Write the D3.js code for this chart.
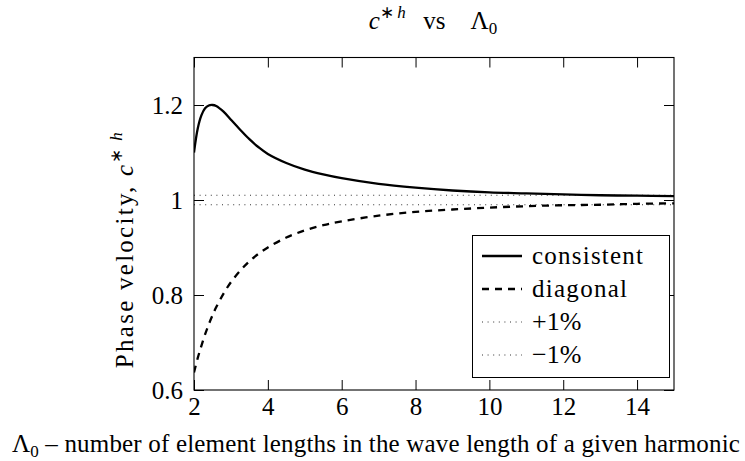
<!DOCTYPE html>
<html>
<head>
<meta charset="utf-8">
<script src="https://cdn.jsdelivr.net/npm/d3@7"></script>
<style>
  html, body { margin: 0; padding: 0; background: #fff; }
  svg { display: block; }
</style>
</head>
<body>
<svg id="chart" width="745" height="461"></svg>
<script>
// ---- data ----
const lambda = [2, 2.1, 2.2, 2.3, 2.4, 2.5, 2.6, 2.8, 3, 3.25, 3.5, 3.75, 4, 4.5, 5, 5.5, 6, 7, 8, 9, 10, 11, 12, 13, 14, 15];
const consistent = [1.100, 1.150, 1.178, 1.193, 1.199, 1.200, 1.198, 1.186, 1.169, 1.148, 1.128, 1.111, 1.097, 1.078, 1.064, 1.054, 1.046, 1.034, 1.026, 1.020, 1.016, 1.014, 1.012, 1.010, 1.009, 1.008];
const diagonal = [0.637, 0.667, 0.693, 0.717, 0.738, 0.757, 0.774, 0.803, 0.827, 0.851, 0.871, 0.887, 0.900, 0.921, 0.936, 0.947, 0.955, 0.967, 0.975, 0.980, 0.984, 0.987, 0.989, 0.990, 0.992, 0.993];
const plusOne = [1.01, 1.01];
const minusOne = [0.99, 0.99];
const bandX = [2, 15];
const xTicks = [2, 4, 6, 8, 10, 12, 14];
const xTickLabels = ["2", "4", "6", "8", "10", "12", "14"];
const yTicks = [0.6, 0.8, 1.0, 1.2];
const yTickLabels = ["0.6", "0.8", "1", "1.2"];
const seriesNames = ["consistent", "diagonal", "+1%", "\u22121%"];

const FONT = "Liberation Serif";
const FS = 25, FSS = 17;

// ---- layout ----
const svg = d3.select("#chart");
const L = 194, R = 674, T = 57.5, B = 390;
const x = d3.scaleLinear().domain([2, 15]).range([L, R]);
const y = d3.scaleLinear().domain([0.6, 1.3]).range([B, T]);

svg.append("defs").append("clipPath").attr("id", "clip")
  .append("rect").attr("x", L).attr("y", T).attr("width", R - L).attr("height", B - T);

const styles = [
  { dash: null, width: 2.3, color: "#000" },
  { dash: "7,6", width: 2.3, color: "#000" },
  { dash: "1,4.6", width: 1, color: "#333" },
  { dash: "1,4.6", width: 1, color: "#333" }
];

const line = d3.line().x(d => x(d[0])).y(d => y(d[1])).curve(d3.curveCatmullRom.alpha(0.5));
const series = [
  d3.zip(lambda, consistent),
  d3.zip(lambda, diagonal),
  d3.zip(bandX, plusOne),
  d3.zip(bandX, minusOne)
];

const plot = svg.append("g").attr("clip-path", "url(#clip)");
[2, 3, 1, 0].forEach(i => {
  plot.append("path")
    .attr("d", line(series[i]))
    .attr("fill", "none")
    .attr("stroke", styles[i].color)
    .attr("stroke-width", styles[i].width)
    .attr("stroke-dasharray", styles[i].dash)
    .attr("stroke-linejoin", "round");
});

// ---- axes (ticks inward, mirrored) ----
const tickLen = 10;
const axB = svg.append("g").attr("transform", `translate(0,${B})`)
  .call(d3.axisBottom(x).tickValues(xTicks).tickSize(-tickLen).tickSizeOuter(0)
    .tickFormat((d, i) => xTickLabels[i]));
const axT = svg.append("g").attr("transform", `translate(0,${T})`)
  .call(d3.axisTop(x).tickValues(xTicks).tickSize(-tickLen).tickSizeOuter(0).tickFormat(""));
const axL = svg.append("g").attr("transform", `translate(${L},0)`)
  .call(d3.axisLeft(y).tickValues(yTicks).tickSize(-tickLen).tickSizeOuter(0)
    .tickFormat((d, i) => yTickLabels[i]));
const axR = svg.append("g").attr("transform", `translate(${R},0)`)
  .call(d3.axisRight(y).tickValues(yTicks).tickSize(-tickLen).tickSizeOuter(0).tickFormat(""));
[axB, axT, axL, axR].forEach(a => {
  a.attr("font-family", FONT).attr("font-size", FS);
  a.select(".domain").remove();
  a.selectAll(".tick line").attr("stroke", "#000").attr("stroke-width", 1);
  a.selectAll("text").attr("fill", "#000").attr("font-family", FONT);
});
axB.selectAll(".tick text").attr("y", 8).attr("dy", "0.68em");
axL.selectAll(".tick text").attr("x", -11).attr("dy", "0.34em");

// frame
svg.append("rect").attr("x", L).attr("y", T).attr("width", R - L).attr("height", B - T)
  .attr("fill", "none").attr("stroke", "#000").attr("stroke-width", 1.1);

// helper: widen text to a target width with letter spacing
function fit(el, target) {
  const w = el.node().getComputedTextLength();
  const n = el.text().length;
  if (w > target) el.attr("font-size", +el.attr("font-size") * target / w);
  else el.attr("letter-spacing", (target - w) / Math.max(1, n - 1));
}

// ---- legend ----
const lg = svg.append("g");
const lgX = 472.5, lgY = 235.5, lgW = 197, lgH = 142;
lg.append("rect").attr("x", lgX).attr("y", lgY).attr("width", lgW).attr("height", lgH)
  .attr("fill", "#fff").attr("stroke", "#000").attr("stroke-width", 1);
const rowY = [256, 289, 322, 355];
const legendTextW = [111, 95];
seriesNames.forEach((name, i) => {
  lg.append("line")
    .attr("x1", 482).attr("x2", 522).attr("y1", rowY[i]).attr("y2", rowY[i])
    .attr("stroke", styles[i].color).attr("stroke-width", styles[i].width)
    .attr("stroke-dasharray", styles[i].dash);
  const t = lg.append("text").attr("x", 532).attr("y", rowY[i] + 8)
    .attr("font-family", FONT).attr("font-size", FS).attr("fill", "#000").text(name);
  if (legendTextW[i]) fit(t, legendTextW[i]);
  else t.attr("font-size", 26);
});

// ---- title ----
const title = svg.append("text").attr("x", 433).attr("y", 29).attr("text-anchor", "middle")
  .attr("font-family", FONT).attr("font-size", FS).attr("fill", "#000");
title.append("tspan").attr("font-style", "italic").text("c");
title.append("tspan").attr("font-size", FSS).attr("dy", -11).text("\u2217\u2009");
title.append("tspan").attr("font-size", FSS).attr("font-style", "italic").text("h");
title.append("tspan").attr("dy", 11).text("\u2002\u2009vs\u2002\u2002\u039B");
title.append("tspan").attr("font-size", FSS).attr("dy", 5).text("0");

// ---- y label ----
const yl = svg.append("text").attr("transform", `translate(133,${249}) rotate(-90)`)
  .attr("text-anchor", "middle").attr("font-family", FONT).attr("font-size", FS).attr("fill", "#000");
yl.append("tspan").text("Phase velocity, ");
yl.append("tspan").attr("font-style", "italic").text("c");
yl.append("tspan").attr("font-size", FSS).attr("dy", -11).text("\u2217\u2009");
yl.append("tspan").attr("font-size", FSS).attr("font-style", "italic").text("h");
fit(yl, 236);

// ---- x label ----
const xl = svg.append("text").attr("x", 376).attr("y", 452).attr("text-anchor", "middle")
  .attr("font-family", FONT).attr("font-size", FS).attr("fill", "#000");
xl.append("tspan").text("\u039B");
xl.append("tspan").attr("font-size", FSS).attr("dy", 5).text("0");
xl.append("tspan").attr("dy", -5).text(" \u2013 number of element lengths in the wave length of a given harmonic");
fit(xl, 728);
</script>
</body>
</html>
